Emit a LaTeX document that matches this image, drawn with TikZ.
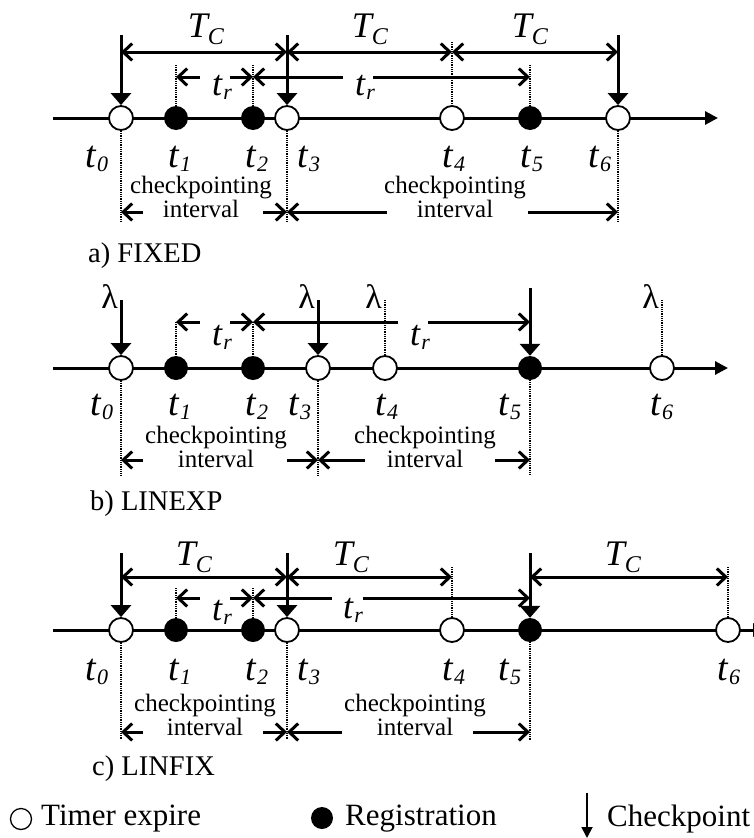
\documentclass[tikz,border=0pt]{standalone}
\usepackage{fontspec}
\setmainfont{Liberation Serif}
\usetikzlibrary{arrows.meta}
\newcommand\tl[1]{\textit{t}\kern0.5pt\raisebox{-4pt}{\fontsize{22}{22}\selectfont\textit{#1}}}
\newcommand\TC{\textit{T}\kern-2pt\raisebox{-7pt}{\fontsize{24}{24}\selectfont\textit{C}}}
\tikzset{
  axisline/.style={line width=3pt, -{Triangle[width=13pt,length=13pt]}},
  tmr/.style={circle, draw, fill=white, line width=1.8pt, minimum size=24pt, inner sep=0pt},
  reg/.style={circle, fill=black, minimum size=24pt, inner sep=0pt},
  ckpt/.style={line width=3pt, -{Triangle[width=20pt,length=12pt]}},
  dimboth/.style={line width=3pt, {Straight Barb[length=9pt,width=17pt]}-{Straight Barb[length=9pt,width=17pt]}},
  dimL/.style={line width=3pt, {Straight Barb[length=9pt,width=17pt]}-},
  dimR/.style={line width=3pt, -{Straight Barb[length=9pt,width=17pt]}},
  dots/.style={line width=2pt, dash pattern=on 1pt off 0.8pt},
  lab/.style={inner sep=0pt, anchor=base west, font=\fontsize{38}{38}\selectfont},
  tclab/.style={inner sep=0pt, anchor=base, font=\fontsize{36}{36}\selectfont},
  trlab/.style={inner sep=0pt, anchor=base west, font=\fontsize{36}{36}\selectfont},
  lam/.style={inner sep=0pt, anchor=east, font=\fontsize{34}{34}\selectfont},
  ci/.style={inner sep=0pt, align=center, font=\fontsize{25}{19}\selectfont},
  ttl/.style={inner sep=0pt, anchor=west, font=\fontsize{28.5}{30}\selectfont},
  leg/.style={inner sep=0pt, anchor=west, font=\fontsize{31}{31}\selectfont},
  legarrow/.style={line width=1.8pt, -{Triangle[width=11pt,length=11pt]}}
}
\begin{document}
\begin{tikzpicture}[x=1pt,y=-1pt]
\useasboundingbox[fill=white] (0,0) rectangle (754,838);

% ================= a) FIXED =================
\coordinate (aS) at (53,118);
\coordinate (aE) at (718,118);
\draw[axisline] (aS) -- (aE);
\node[tmr] (a0) at (121,118) {};
\node[reg] (a1) at (176,118) {};
\node[reg] (a2) at (253,118) {};
\node[tmr] (a3) at (287,118) {};
\node[tmr] (a4) at (452,118) {};
\node[reg] (a5) at (530,118) {};
\node[tmr] (a6) at (618,118) {};
\draw[ckpt] (a0|-0,35) -- (a0.north);
\draw[ckpt] (a3|-0,35) -- (a3.north);
\draw[ckpt] (a6|-0,35) -- (a6.north);
\draw[dimboth] (a0|-0,52) -- (a3|-0,52);
\draw[dimboth] (a3|-0,52) -- (a4|-0,52);
\draw[dimboth] (a4|-0,52) -- (a6|-0,52);
\draw[dots] (a1|-0,65) -- (a1.north);
\draw[dots] (a2|-0,65) -- (a2.north);
\draw[dots] (a4|-0,42) -- (a4.north);
\draw[dots] (a5|-0,65) -- (a5.north);
\draw[dimL] (a1|-0,77) -- ++(24,0);
\draw[dimR] (a2|-0,77) ++(-23,0) -- ++(23,0);
\draw[dimL] (a2|-0,77) -- ++(90,0);
\draw[dimR] (a5|-0,77) ++(-157,0) -- ++(157,0);
\node[tclab] (aT1) at (206,37) {\TC};
\node[tclab] (aT2) at (370,37) {\TC};
\node[tclab] (aT3) at (530,37) {\TC};
\node[trlab] (ar1) at (212,95) {\tl{r}};
\node[trlab] (ar2) at (355,95) {\tl{r}};
\draw[dots] (a0.south) -- (a0|-0,222);
\draw[dots] (a3.south) -- (a3|-0,222);
\draw[dots] (a6.south) -- (a6|-0,222);
\draw[dimL] (a0|-0,212) -- ++(22,0);
\draw[dimR] (a3|-0,212) ++(-24,0) -- ++(24,0);
\draw[dimL] (a3|-0,212) -- ++(100,0);
\draw[dimR] (a6|-0,212) ++(-90,0) -- ++(90,0);
\node[ci] (ai1) at (201,197) {checkpointing\\interval};
\node[ci] (ai2) at (455,197) {checkpointing\\interval};
\node[lab] (at0) at (85,167) {\tl{0}};
\node[lab] (at1) at (168,167) {\tl{1}};
\node[lab] (at2) at (245,167) {\tl{2}};
\node[lab] (at3) at (297,167) {\tl{3}};
\node[lab] (at4) at (442,167) {\tl{4}};
\node[lab] (at5) at (520,167) {\tl{5}};
\node[lab] (at6) at (588,167) {\tl{6}};
\node[ttl] (atitle) at (88,256) {a) FIXED};

% ================= b) LINEXP =================
\coordinate (bS) at (53,368);
\coordinate (bE) at (728,368);
\draw[axisline] (bS) -- (bE);
\node[tmr] (b0) at (121,368) {};
\node[reg] (b1) at (176,368) {};
\node[reg] (b2) at (253,368) {};
\node[tmr] (b3) at (318,368) {};
\node[tmr] (b4) at (385,368) {};
\node[reg] (b5) at (530,368) {};
\node[tmr] (b6) at (662,368) {};
\draw[ckpt] (b0|-0,300) -- (b0.north);
\draw[ckpt] (b3|-0,300) -- (b3.north);
\draw[ckpt] (b5|-0,288) -- (b5.north);
\draw[dots] (b1|-0,322) -- (b1.north);
\draw[dots] (b2|-0,322) -- (b2.north);
\draw[dots] (b4|-0,300) -- (b4.north);
\draw[dots] (b6|-0,300) -- (b6.north);
\node[lam] (bl0) at (118,297) {λ};
\node[lam] (bl3) at (315,297) {λ};
\node[lam] (bl4) at (382,297) {λ};
\node[lam] (bl6) at (659,297) {λ};
\draw[dimL] (b1|-0,322) -- ++(24,0);
\draw[dimR] (b2|-0,322) ++(-23,0) -- ++(23,0);
\draw[dimL] (b2|-0,322) -- ++(145,0);
\draw[dimR] (b5|-0,322) ++(-102,0) -- ++(102,0);
\node[trlab] (br1) at (212,345) {\tl{r}};
\node[trlab] (br2) at (410,345) {\tl{r}};
\draw[dots] (b0.south) -- (b0|-0,475);
\draw[dots] (b3.south) -- (b3|-0,475);
\draw[dots] (b5.south) -- (b5|-0,475);
\draw[dimL] (b0|-0,460) -- ++(22,0);
\draw[dimR] (b3|-0,460) ++(-31,0) -- ++(31,0);
\draw[dimL] (b3|-0,460) -- ++(47,0);
\draw[dimR] (b5|-0,460) ++(-35,0) -- ++(35,0);
\node[ci] (bi1) at (216,447) {checkpointing\\interval};
\node[ci] (bi2) at (425,447) {checkpointing\\interval};
\node[lab] (bt0) at (90,415) {\tl{0}};
\node[lab] (bt1) at (168,415) {\tl{1}};
\node[lab] (bt2) at (245,415) {\tl{2}};
\node[lab] (bt3) at (288,415) {\tl{3}};
\node[lab] (bt4) at (375,415) {\tl{4}};
\node[lab] (bt5) at (498,415) {\tl{5}};
\node[lab] (bt6) at (650,415) {\tl{6}};
\node[ttl] (btitle) at (90,504) {b) LINEXP};

% ================= c) LINFIX =================
\coordinate (cS) at (53,630);
\coordinate (cE) at (766,630);
\draw[axisline] (cS) -- (cE);
\node[tmr] (c0) at (121,630) {};
\node[reg] (c1) at (176,630) {};
\node[reg] (c2) at (253,630) {};
\node[tmr] (c3) at (287,630) {};
\node[tmr] (c4) at (452,630) {};
\node[reg] (c5) at (530,630) {};
\node[tmr] (c6) at (728,630) {};
\draw[ckpt] (c0|-0,553) -- (c0.north);
\draw[ckpt] (c3|-0,553) -- (c3.north);
\draw[ckpt] (c5|-0,553) -- (c5.north);
\draw[dimboth] (c0|-0,577) -- (c3|-0,577);
\draw[dimboth] (c3|-0,577) -- (c4|-0,577);
\draw[dimboth] (c5|-0,577) -- (c6|-0,577);
\draw[dots] (c1|-0,588) -- (c1.north);
\draw[dots] (c2|-0,588) -- (c2.north);
\draw[dots] (c4|-0,567) -- (c4.north);
\draw[dots] (c6|-0,567) -- (c6.north);
\draw[dimL] (c1|-0,598) -- ++(24,0);
\draw[dimR] (c2|-0,598) ++(-23,0) -- ++(23,0);
\draw[dimL] (c2|-0,598) -- ++(79,0);
\draw[dimR] (c5|-0,598) ++(-167,0) -- ++(167,0);
\node[tclab] (cT1) at (194,565) {\TC};
\node[tclab] (cT2) at (351,565) {\TC};
\node[tclab] (cT3) at (623,565) {\TC};
\node[trlab] (cr1) at (212,620) {\tl{r}};
\node[trlab] (cr2) at (343,618) {\tl{r}};
\draw[dots] (c0.south) -- (c0|-0,740);
\draw[dots] (c3.south) -- (c3|-0,740);
\draw[dots] (c5.south) -- (c5|-0,740);
\draw[dimL] (c0|-0,732) -- ++(22,0);
\draw[dimR] (c3|-0,732) ++(-24,0) -- ++(24,0);
\draw[dimL] (c3|-0,732) -- ++(55,0);
\draw[dimR] (c5|-0,732) ++(-57,0) -- ++(57,0);
\node[ci] (ci1) at (205,715) {checkpointing\\interval};
\node[ci] (ci2) at (415,715) {checkpointing\\interval};
\node[lab] (ct0) at (85,680) {\tl{0}};
\node[lab] (ct1) at (168,680) {\tl{1}};
\node[lab] (ct2) at (245,680) {\tl{2}};
\node[lab] (ct3) at (297,680) {\tl{3}};
\node[lab] (ct4) at (442,680) {\tl{4}};
\node[lab] (ct5) at (498,680) {\tl{5}};
\node[lab] (ct6) at (717,680) {\tl{6}};
\node[ttl] (ctitle) at (92,769) {c) LINFIX};

% ================= legend =================
\node[tmr, line width=1.3pt, minimum size=21pt] (lg1) at (21,819) {};
\node[leg] (lgt1) at (41,819) {Timer expire};
\node[reg, minimum size=22pt] (lg2) at (322,818) {};
\node[leg] (lgt2) at (345,819) {Registration};
\coordinate (lg3a) at (587,793);
\coordinate (lg3b) at (587,838);
\draw[legarrow] (lg3a) -- (lg3b);
\node[leg] (lgt3) at (607,819) {Checkpoint};
\end{tikzpicture}
\end{document}
